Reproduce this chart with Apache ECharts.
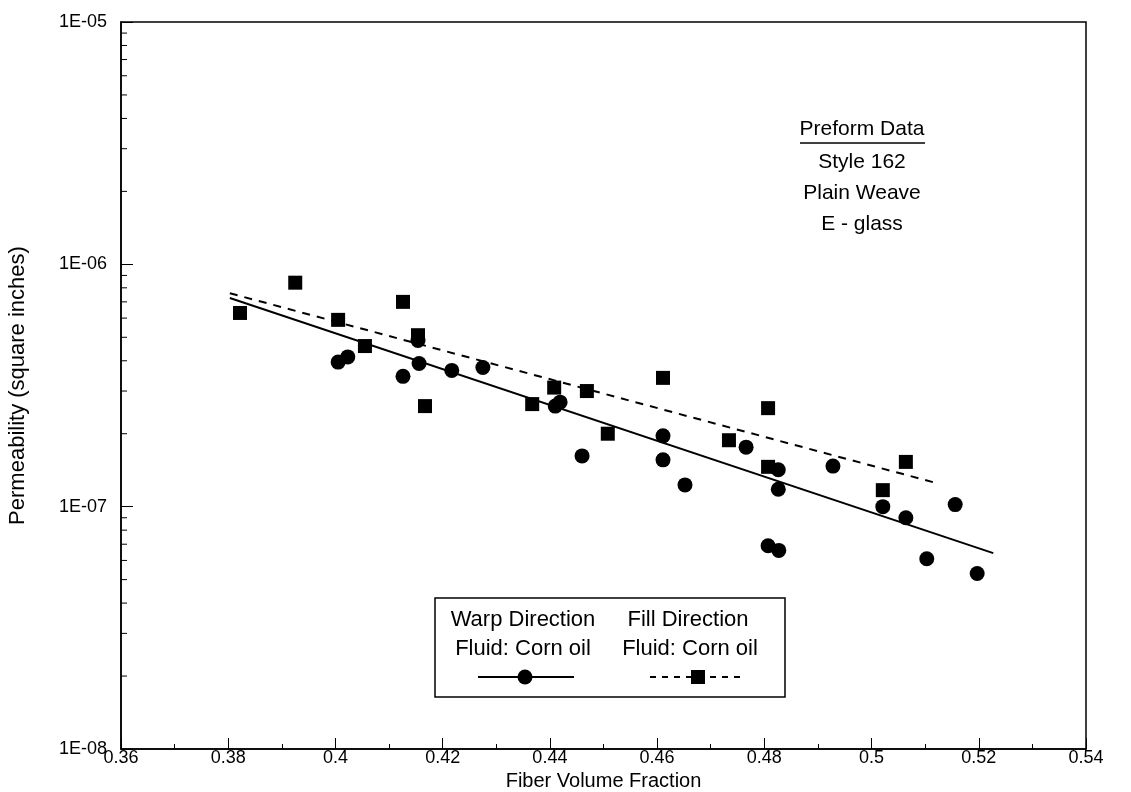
<!DOCTYPE html>
<html>
<head>
<meta charset="utf-8">
<title>Permeability vs Fiber Volume Fraction</title>
<script src="https://cdn.jsdelivr.net/npm/echarts@6/dist/echarts.min.js"></script>
<style>
  html, body { margin: 0; padding: 0; background: #fff; }
  #main { width: 1131px; height: 792px; }
</style>
</head>
<body>
<div id="main"></div>
<script>
// fill direction, corn oil (squares)
var fillFraction = [0.3822, 0.3925, 0.4005, 0.4055, 0.4126, 0.4154, 0.4167, 0.4367, 0.4408, 0.4469, 0.4508, 0.4611, 0.4734, 0.4807, 0.4807, 0.5021, 0.5064]
var fillPerm = [6.3e-7, 8.4e-7, 5.9e-7, 4.6e-7, 7.0e-7, 5.1e-7, 2.6e-7, 2.65e-7, 3.1e-7, 3.0e-7, 2.0e-7, 3.4e-7, 1.88e-7, 2.55e-7, 1.46e-7, 1.17e-7, 1.53e-7]

// warp direction, corn oil (circles)
var warpFraction = [0.4005, 0.4023, 0.4126, 0.4154, 0.4156, 0.4217, 0.4275, 0.4410, 0.4419, 0.4460, 0.4611, 0.4611, 0.4652, 0.4766, 0.4826, 0.4826, 0.4807, 0.4827, 0.4928, 0.5021, 0.5064, 0.5156, 0.5103, 0.5197]
var warpPerm = [3.95e-7, 4.15e-7, 3.45e-7, 4.85e-7, 3.9e-7, 3.65e-7, 3.75e-7, 2.6e-7, 2.7e-7, 1.62e-7, 1.96e-7, 1.56e-7, 1.23e-7, 1.76e-7, 1.42e-7, 1.18e-7, 6.9e-8, 6.6e-8, 1.47e-7, 1.0e-7, 9.0e-8, 1.02e-7, 6.1e-8, 5.3e-8]

// fitted lines (end points)
var warpFitX = [0.3803, 0.5227]
var warpFitY = [7.26e-7, 6.43e-8]
var fillFitX = [0.3803, 0.5122]
var fillFitY = [7.6e-7, 1.25e-7]

// y axis minor ticks (2..9 in each decade)
var minorMantissa = [2, 3, 4, 5, 6, 7, 8, 9]
var minorDecades = [1e-8, 1e-7, 1e-6]

var font = 'Liberation Sans, Arial, Helvetica, sans-serif'

function pairs(xs, ys) {
  return xs.map(function (x, i) { return [x, ys[i]] })
}

var minorTicks = []
minorDecades.forEach(function (d) {
  minorMantissa.forEach(function (m) { minorTicks.push([0.36, m * d]) })
})

var chart = echarts.init(document.getElementById('main'))

var option = {
  backgroundColor: '#fff',
  animation: false,
  textStyle: { fontFamily: font, color: '#000' },
  grid: {
    left: 121,
    right: 45,
    top: 22,
    bottom: 43,
    outerBoundsMode: 'none',
    containLabel: false,
    show: true,
    borderColor: '#000',
    borderWidth: 1.5
  },
  xAxis: {
    type: 'value',
    min: 0.36,
    max: 0.54,
    interval: 0.02,
    name: 'Fiber Volume Fraction',
    nameLocation: 'middle',
    nameGap: 12,
    nameTextStyle: { fontSize: 20, color: '#000', fontFamily: font },
    axisLine: { lineStyle: { color: '#000', width: 1.5 } },
    axisTick: { inside: true, length: 11, lineStyle: { color: '#000' } },
    minorTick: { show: true, splitNumber: 2, length: 5, lineStyle: { color: '#000' } },
    splitLine: { show: false },
    axisLabel: {
      fontSize: 18,
      color: '#000',
      margin: 0,
      formatter: function (v) { return String(+v.toFixed(2)) }
    }
  },
  yAxis: {
    type: 'log',
    logBase: 10,
    min: 1e-8,
    max: 1e-5,
    name: 'Permeability (square inches)',
    nameLocation: 'middle',
    nameGap: 92,
    nameTextStyle: { fontSize: 22, color: '#000', fontFamily: font },
    axisLine: { lineStyle: { color: '#000', width: 1.5 } },
    axisTick: { inside: true, length: 12, lineStyle: { color: '#000' } },
    splitLine: { show: false },
    axisLabel: {
      fontSize: 18,
      color: '#000',
      margin: 14,
      formatter: function (v) {
        var e = Math.round(Math.log10(v))
        var s = String(Math.abs(e))
        if (s.length < 2) s = '0' + s
        return '1E' + (e < 0 ? '-' : '+') + s
      }
    }
  },
  series: [
    {
      name: 'minor ticks',
      type: 'custom',
      silent: true,
      data: minorTicks,
      renderItem: function (params, api) {
        var p = api.coord([api.value(0), api.value(1)])
        return {
          type: 'line',
          shape: { x1: p[0], y1: p[1], x2: p[0] + 6, y2: p[1] },
          style: { stroke: '#000', lineWidth: 1 }
        }
      }
    },
    {
      name: 'Warp fit',
      type: 'line',
      data: pairs(warpFitX, warpFitY),
      showSymbol: false,
      silent: true,
      lineStyle: { color: '#000', width: 2 }
    },
    {
      name: 'Fill fit',
      type: 'line',
      data: pairs(fillFitX, fillFitY),
      showSymbol: false,
      silent: true,
      lineStyle: { color: '#000', width: 2, type: [8, 7] }
    },
    {
      name: 'Warp Direction',
      type: 'scatter',
      symbol: 'circle',
      symbolSize: 15,
      itemStyle: { color: '#000', opacity: 1 },
      data: pairs(warpFraction, warpPerm)
    },
    {
      name: 'Fill Direction',
      type: 'scatter',
      symbol: 'rect',
      symbolSize: 14,
      itemStyle: { color: '#000', opacity: 1 },
      data: pairs(fillFraction, fillPerm)
    }
  ],
  graphic: [
    // preform annotation
    { type: 'text', x: 862, y: 119, style: { text: 'Preform Data', font: '21px ' + font, fill: '#000', textAlign: 'center' } },
    { type: 'line', shape: { x1: 800, y1: 143, x2: 925, y2: 143 }, style: { stroke: '#000', lineWidth: 1.5 } },
    { type: 'text', x: 862, y: 152, style: { text: 'Style 162', font: '21px ' + font, fill: '#000', textAlign: 'center' } },
    { type: 'text', x: 862, y: 183, style: { text: 'Plain Weave', font: '21px ' + font, fill: '#000', textAlign: 'center' } },
    { type: 'text', x: 862, y: 214, style: { text: 'E - glass', font: '21px ' + font, fill: '#000', textAlign: 'center' } },
    // legend box
    { type: 'rect', shape: { x: 435, y: 598, width: 350, height: 99 }, style: { fill: '#fff', stroke: '#000', lineWidth: 1.5 }, z: 50 },
    { type: 'text', x: 523, y: 609, z: 51, style: { text: 'Warp Direction', font: '22px ' + font, fill: '#000', textAlign: 'center' } },
    { type: 'text', x: 523, y: 638, z: 51, style: { text: 'Fluid: Corn oil', font: '22px ' + font, fill: '#000', textAlign: 'center' } },
    { type: 'text', x: 688, y: 609, z: 51, style: { text: 'Fill Direction', font: '22px ' + font, fill: '#000', textAlign: 'center' } },
    { type: 'text', x: 690, y: 638, z: 51, style: { text: 'Fluid: Corn oil', font: '22px ' + font, fill: '#000', textAlign: 'center' } },
    { type: 'line', z: 51, shape: { x1: 478, y1: 677, x2: 574, y2: 677 }, style: { stroke: '#000', lineWidth: 2 } },
    { type: 'circle', z: 52, shape: { cx: 525, cy: 677, r: 7.5 }, style: { fill: '#000' } },
    { type: 'line', z: 51, shape: { x1: 650, y1: 677, x2: 746, y2: 677 }, style: { stroke: '#000', lineWidth: 2, lineDash: [6, 6] } },
    { type: 'rect', z: 52, shape: { x: 691, y: 670, width: 14, height: 14 }, style: { fill: '#000' } }
  ]
}

chart.setOption(option)
</script>
</body>
</html>
